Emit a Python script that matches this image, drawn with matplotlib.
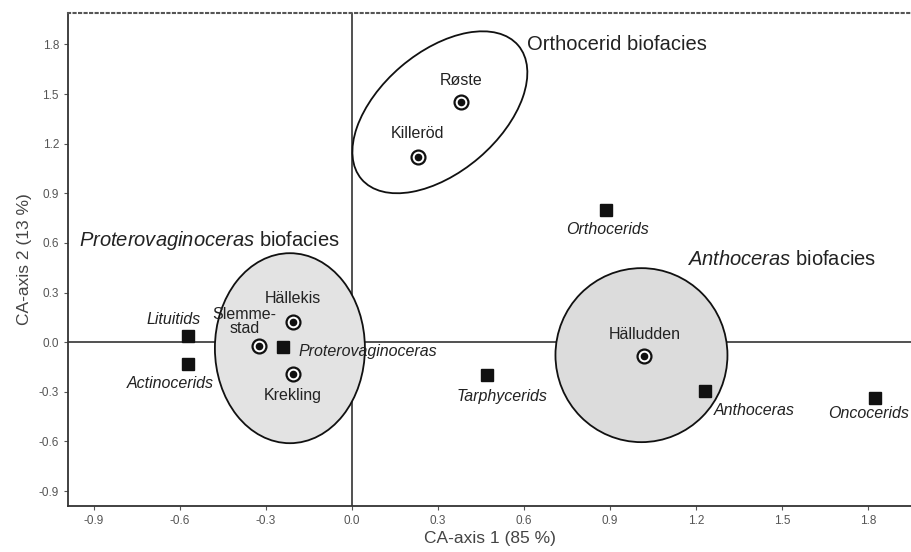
import matplotlib
matplotlib.use("Agg")
import matplotlib.pyplot as plt
from matplotlib.patches import Ellipse
from matplotlib.transforms import ScaledTranslation


# sites (circled dots)
site_names = ["Røste", "Killeröd", "Hällekis", "Slemme-\nstad", "Krekling", "Hälludden"]
site_x = [0.38, 0.23, -0.205, -0.325, -0.205, 1.02]
site_y = [1.45, 1.12, 0.12, -0.025, -0.19, -0.085]

# taxa (squares)
taxa_names = ["Lituitids", "Actinocerids", "Proterovaginoceras", "Tarphycerids",
              "Orthocerids", "Anthoceras", "Oncocerids"]
taxa_x = [-0.57, -0.57, -0.24, 0.47, 0.885, 1.23, 1.825]
taxa_y = [0.036, -0.13, -0.03, -0.20, 0.80, -0.295, -0.34]

ticks = [-0.9, -0.6, -0.3, 0.0, 0.3, 0.6, 0.9, 1.2, 1.5, 1.8]

# label offsets in points (dx, dy, ha)
site_offsets = [(0, 16, "center"), (0, 17, "center"), (0, 17, "center"),
                (-10, 18, "center"), (0, -16, "center"), (0, 16, "center")]
taxa_offsets = [(-11, 12, "center"), (-13, -14, "center"), (11, -3, "left"),
                (11, -15, "center"), (1, -14, "center"), (7, -14, "left"),
                (-5, -11, "center")]

plt.rcParams["mathtext.fontset"] = "custom"
plt.rcParams["mathtext.it"] = "Liberation Sans:italic"
plt.rcParams["mathtext.rm"] = "Liberation Sans"

narrow = ["Liberation Sans Narrow", "Liberation Sans", "DejaVu Sans"]
sans = ["Liberation Sans", "DejaVu Sans"]

fig = plt.figure(figsize=(9.11, 5.52), dpi=100)
ax = fig.add_axes([0.0746, 0.0833, 0.9254, 0.8931])
ax.set_xlim(-0.99, 1.95)
ax.set_ylim(-0.99, 1.99)

ax.axhline(0, color="#333333", linewidth=1.2, zorder=1)
ax.axvline(0, color="#333333", linewidth=1.2, zorder=1)

# biofacies envelopes, sized in inches around a data-space centre
def envelope(cx, cy, w, h, angle, fc):
    tr = fig.dpi_scale_trans + ScaledTranslation(cx, cy, ax.transData)
    ax.add_patch(Ellipse((0, 0), w, h, angle=angle, transform=tr,
                         facecolor=fc, edgecolor="#111111", linewidth=1.3, zorder=2))

envelope(0.307, 1.39, 2.06, 1.20, 40.5, "white")
envelope(-0.216, -0.036, 1.50, 1.90, 0, "#e3e3e3")
envelope(1.01, -0.078, 1.72, 1.74, 0, "#dcdcdc")

ax.plot(site_x, site_y, "o", markersize=10, markerfacecolor="white",
        markeredgecolor="#111111", markeredgewidth=1.6, zorder=4)
ax.plot(site_x, site_y, "o", markersize=4.5, color="#111111", zorder=5)
ax.plot(taxa_x, taxa_y, "s", markersize=9, color="#111111", zorder=4)

for name, x, y, (dx, dy, ha) in zip(site_names, site_x, site_y, site_offsets):
    ax.annotate(name, (x, y), xytext=(dx, dy), textcoords="offset points",
                ha=ha, va="center", fontsize=11.5, family=sans, color="#222222",
                linespacing=0.95, zorder=6)

for name, x, y, (dx, dy, ha) in zip(taxa_names, taxa_x, taxa_y, taxa_offsets):
    ax.annotate(name, (x, y), xytext=(dx, dy), textcoords="offset points",
                ha=ha, va="center", fontsize=11.5, family=sans, style="italic",
                color="#222222", zorder=6, annotation_clip=False)

ax.text(0.61, 1.80, "Orthocerid biofacies", fontsize=14.5, family=sans,
        va="center", ha="left", color="#222222")
ax.text(-0.95, 0.615, r"$\mathit{Proterovaginoceras}$ biofacies", fontsize=14.5,
        family=sans, va="center", ha="left", color="#222222")
ax.text(1.17, 0.50, r"$\mathit{Anthoceras}$ biofacies", fontsize=14.5,
        family=sans, va="center", ha="left", color="#222222")

ax.set_xticks(ticks)
ax.set_yticks(ticks)
ax.set_xticklabels([f"{t:.1f}" for t in ticks], family=narrow)
ax.set_yticklabels([f"{t:.1f}" for t in ticks], family=narrow)
ax.tick_params(labelsize=8.5, labelcolor="#555555", color="#555555",
               length=3, width=0.8)
ax.set_xlabel("CA-axis 1 (85 %)", fontsize=12.5, family=narrow, color="#444444",
              labelpad=3)
ax.set_ylabel("CA-axis 2 (13 %)", fontsize=12.5, family=narrow, color="#444444",
              labelpad=5)

ax.spines["right"].set_visible(False)
ax.spines["top"].set_linestyle(":")
ax.spines["top"].set_color("#555555")
ax.spines["top"].set_linewidth(1.5)
for s in ("left", "bottom"):
    ax.spines[s].set_color("#333333")
    ax.spines[s].set_linewidth(1.3)

fig.savefig("out.png", dpi=100)
